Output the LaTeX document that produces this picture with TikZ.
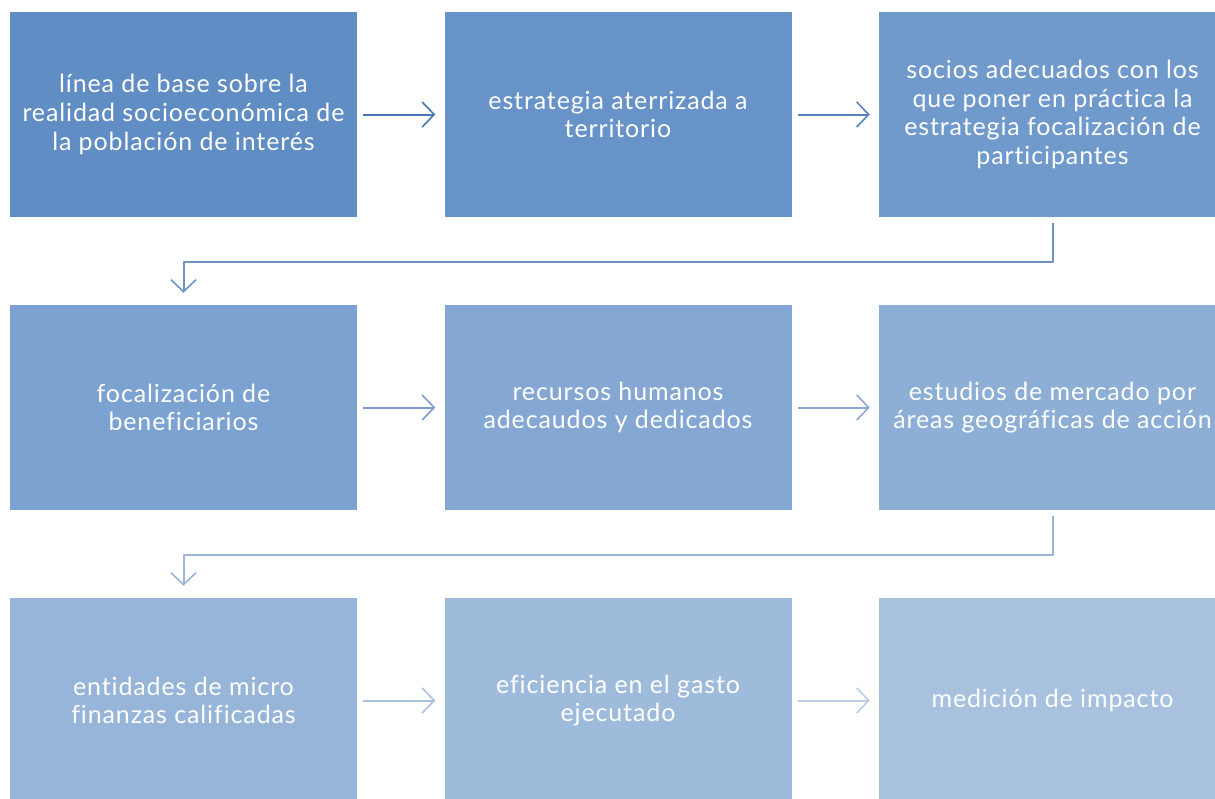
\documentclass[tikz,border=0pt]{standalone}
\usepackage{fontspec}
\setmainfont[Ligatures=NoCommon, LetterSpace=3.5]{Lato}
\usetikzlibrary{arrows.meta}

\definecolor{boxA}{RGB}{96,141,196}
\definecolor{boxB}{RGB}{103,147,200}
\definecolor{boxC}{RGB}{112,154,204}
\definecolor{boxD}{RGB}{123,162,208}
\definecolor{boxE}{RGB}{132,168,211}
\definecolor{boxF}{RGB}{141,175,214}
\definecolor{boxG}{RGB}{150,181,217}
\definecolor{boxH}{RGB}{159,187,220}
\definecolor{boxI}{RGB}{168,193,223}

\definecolor{arrA}{RGB}{72,118,180}
\definecolor{arrB}{RGB}{88,132,190}
\definecolor{arrC}{RGB}{110,148,198}
\definecolor{arrD}{RGB}{125,158,204}
\definecolor{arrE}{RGB}{140,170,210}
\definecolor{arrF}{RGB}{155,180,216}
\definecolor{arrG}{RGB}{172,192,222}
\definecolor{arrH}{RGB}{190,205,230}

\tikzset{
  stepbox/.style={minimum width=347pt, minimum height=205pt, inner sep=0pt,
    text=white, align=center, font=\fontsize{25}{28.7}\selectfont},
  flow/.style={line width=2pt, -{Straight Barb[length=12pt, width=25pt, line width=1.6pt]},
    shorten <=6pt, shorten >=9pt},
}

\begin{document}
\begin{tikzpicture}[x=1pt, y=-1pt]

  \newcommand\X{434.5}
  \newcommand\Y{293}

  \useasboundingbox (0,0) rectangle (1215,798);

  %% row 1
  \node[stepbox, fill=boxA] (linea) at (183.5+0*\X, 114.5+0*\Y)
    {línea de base sobre la\\realidad socioeconómica de\\la población de interés};
  \node[stepbox, fill=boxB] (estrategia) at (183.5+1*\X, 114.5+0*\Y)
    {estrategia aterrizada a\\territorio};
  \node[stepbox, fill=boxC] (socios) at (183.5+2*\X, 114.5+0*\Y)
    {socios adecuados con los\\que poner en práctica la\\estrategia focalización de\\participantes};

  %% row 2
  \node[stepbox, fill=boxD] (focal) at (183.5+0*\X, 114.5+1*\Y)
    {focalización de\\beneficiarios};
  \node[stepbox, fill=boxE] (recursos) at (183.5+1*\X, 114.5+1*\Y)
    {recursos humanos\\adecaudos y dedicados};
  \node[stepbox, fill=boxF] (estudios) at (183.5+2*\X, 114.5+1*\Y)
    {estudios de mercado por\\áreas geográficas de acción};

  %% row 3
  \node[stepbox, fill=boxG] (entidades) at (183.5+0*\X, 114.5+2*\Y)
    {entidades de micro\\finanzas calificadas};
  \node[stepbox, fill=boxH] (eficiencia) at (183.5+1*\X, 114.5+2*\Y)
    {eficiencia en el gasto\\ejecutado};
  \node[stepbox, fill=boxI] (medicion) at (183.5+2*\X, 114.5+2*\Y)
    {medición de impacto};

  \draw[flow, draw=arrA] (linea) -- (estrategia); %% 1->2
  \draw[flow, draw=arrB] (estrategia) -- (socios); %% 2->3
  \draw[flow, draw=arrC, line join=round, shorten >=12pt]
    (socios.south) -- ++(0,45) -| (focal.north); %% 3->4
  \draw[flow, draw=arrD] (focal) -- (recursos); %% 4->5
  \draw[flow, draw=arrE] (recursos) -- (estudios); %% 5->6
  \draw[flow, draw=arrF, line join=round, shorten >=12pt]
    (estudios.south) -- ++(0,45) -| (entidades.north); %% 6->7
  \draw[flow, draw=arrG] (entidades) -- (eficiencia); %% 7->8
  \draw[flow, draw=arrH] (eficiencia) -- (medicion); %% 8->9
\end{tikzpicture}
\end{document}
